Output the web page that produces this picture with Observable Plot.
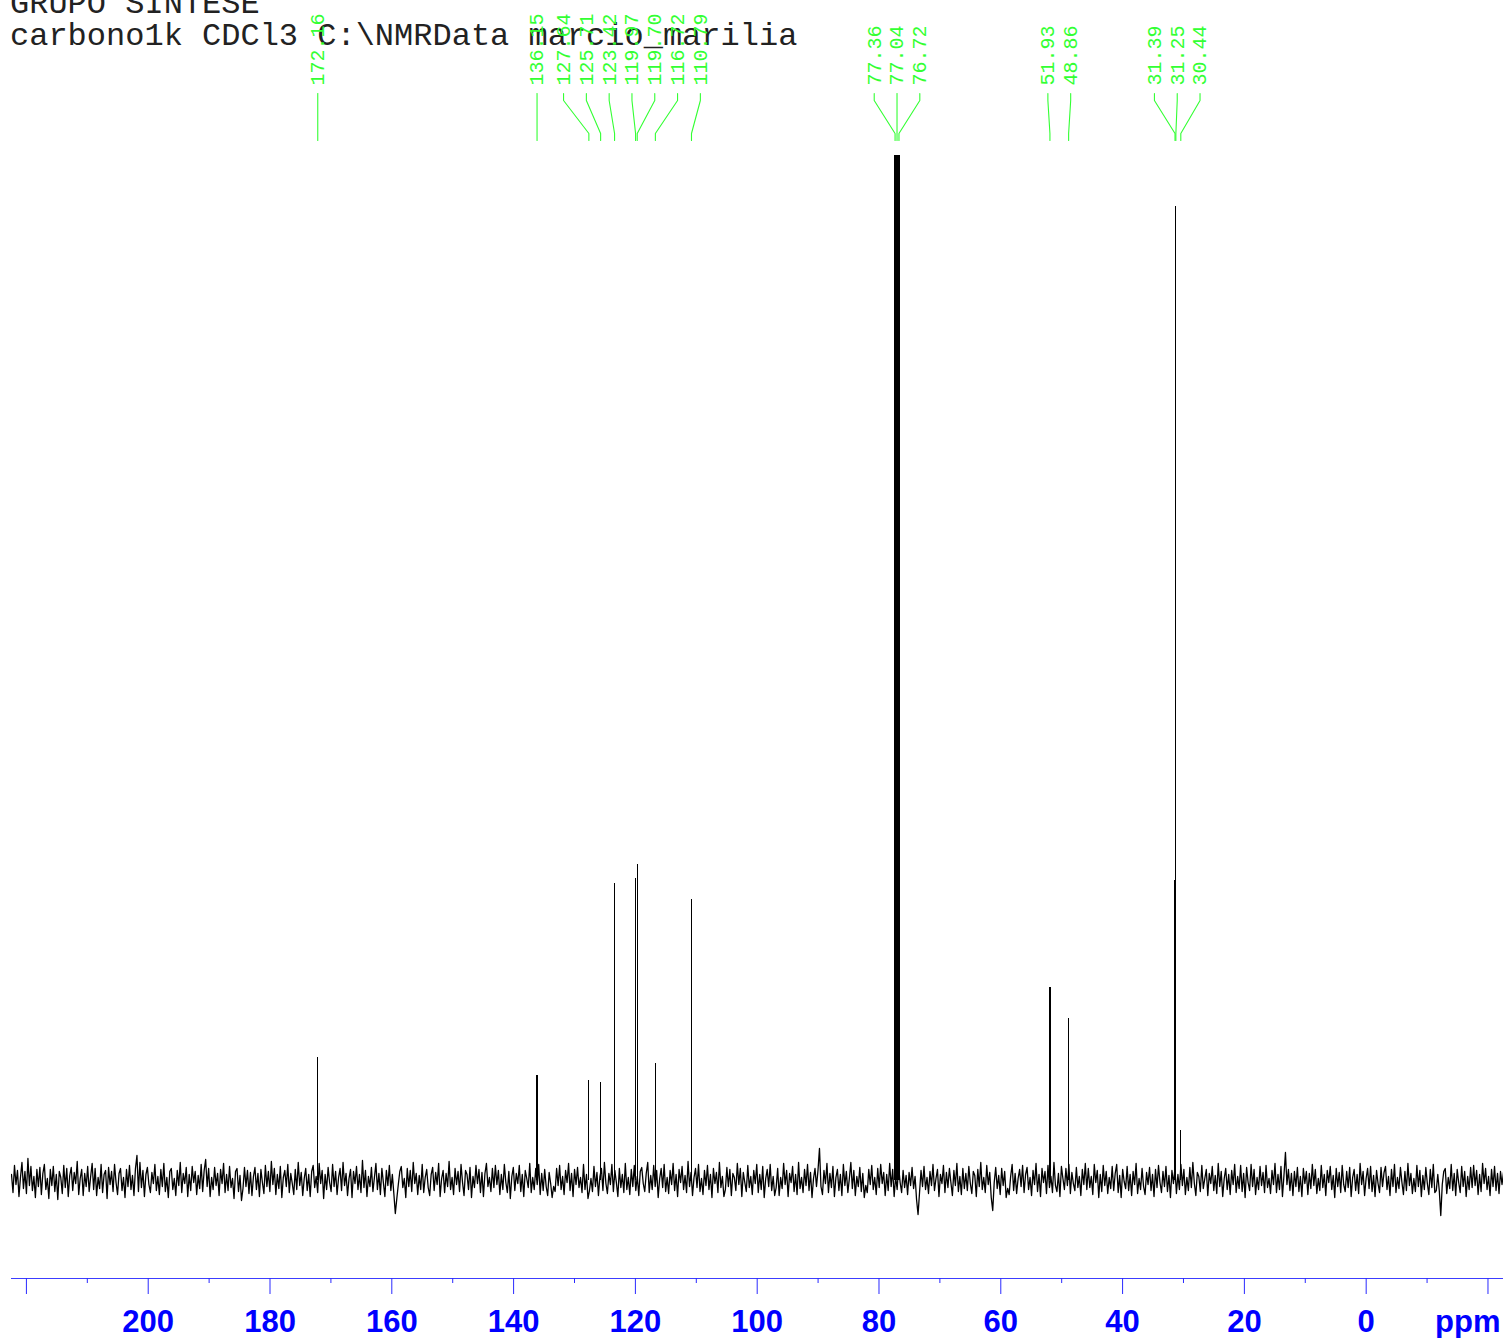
<!DOCTYPE html>
<html>
<head>
<meta charset="utf-8">
<script src="https://cdn.jsdelivr.net/npm/d3@7"></script>
<script src="https://cdn.jsdelivr.net/npm/@observablehq/plot@0.6"></script>
<style>
  html, body { margin: 0; padding: 0; background: #fff; }
  #wrap { position: relative; width: 1503px; height: 1338px; overflow: hidden; background: #fff; }
  #title { position: absolute; left: 10px; top: -11.5px; font-family: "Liberation Mono", "DejaVu Sans Mono", monospace; font-size: 32px; line-height: 32px; white-space: pre; color: #222; z-index: 0; }
  #labels { position: absolute; left: 0; top: 0; z-index: 1; }
  #main { position: absolute; left: 0; top: 155px; z-index: 1; }
</style>
</head>
<body>
<div id="wrap">
<div id="title">GRUPO SINTESE
carbono1k CDCl3 C:\NMRData marcio_marilia</div>
<div id="labels"></div>
<div id="main"></div>
</div>
<script>
// ---- data ----
const ppmStart = 222.45;   // left edge of spectrum (ppm)
const ppmEnd = -22.55;     // right edge of spectrum (ppm)

const peakPpm = [172.16, 136.15, 127.64, 125.71, 123.42, 119.97, 119.70, 116.72, 110.79,
                 77.36, 77.04, 76.72, 51.93, 48.86, 31.39, 31.25, 30.44];
const peakHeight = [123, 105, 100, 98, 297, 302, 316, 117, 281,
                    1400, 1600, 1350, 193, 162, 300, 974, 50];

const majorTicks = [220, 200, 180, 160, 140, 120, 100, 80, 60, 40, 20, 0, -20];
const minorTicks = [210, 190, 170, 150, 130, 110, 90, 70, 50, 30, 10, -10];
const tickLabels = ["", "200", "180", "160", "140", "120", "100", "80", "60", "40", "20", "0", ""];
const unitLabel = "ppm";

// baseline noise, read approximately (evenly sampled from ppmStart to ppmEnd)
const noise = [
6,-12,15,-4,10,-16,3,18,-8,9,-13,22,-5,14,-10,4,-17,11,-6,13,
-14,7,16,-9,2,-18,11,-5,14,-11,6,-19,9,3,-13,15,-7,12,-16,5,
13,-10,8,-3,19,-14,2,11,-15,7,-6,14,-11,4,17,-9,12,-15,3,-8,
16,-12,6,10,-18,13,-4,9,-11,16,-2,-14,7,12,-10,3,-17,11,-6,15,
-9,5,-15,12,25,-11,18,-7,10,-16,6,13,-4,-12,8,-3,16,-10,4,-14,
11,-6,17,-11,3,-17,9,12,-9,2,-15,10,-5,18,-12,7,-3,13,-16,6,
-10,14,-2,9,-14,5,-8,16,-11,10,21,-6,12,-16,3,-9,13,-5,7,-15,
11,-3,17,-12,6,-10,14,-7,2,-18,9,12,-11,5,-20,-8,13,-6,10,-13,
8,-15,4,13,-9,7,-16,11,-2,-13,15,-6,9,-11,19,-4,12,-14,6,-8,
14,-17,3,10,-6,16,-12,7,-3,-14,11,-9,18,-5,8,-15,2,12,-10,6,
-16,9,15,-7,4,-12,17,-3,10,-18,6,-9,13,-2,-11,16,-6,9,-14,3,
12,-10,18,-5,7,-15,2,11,-17,9,-3,14,-9,6,-12,20,-7,10,-16,4,
-6,13,-11,3,17,-9,7,-14,12,-2,-16,10,-5,15,-10,6,-13,-33,-18,-4,
9,14,-7,2,-17,12,-6,10,-11,18,-3,7,-14,5,-9,16,-12,3,11,-7,
-15,6,13,-10,8,-4,17,-16,2,10,-12,7,-6,19,-9,3,-14,12,-4,9,
-11,16,-2,-15,10,6,-9,13,-17,4,-7,15,-3,11,-12,8,-16,7,17,-6,
3,-11,12,-7,15,-4,10,-14,6,-9,16,-2,-12,9,-18,4,13,-10,7,-3,
15,-11,6,-16,10,2,-7,17,-12,3,-9,12,-4,16,-14,7,-10,11,-6,-15,
8,-3,-17,-6,-11,12,-5,15,-9,4,-14,10,-2,17,-10,7,-16,11,-4,13,
-7,3,-12,16,-9,6,-18,-10,2,-11,14,-6,8,-15,4,12,-10,18,-3,-13,
7,-4,16,-11,10,-2,-16,12,-7,6,-12,17,-9,3,-14,11,-6,15,-10,4,
-15,9,13,-3,-11,7,18,-12,5,-9,15,-6,10,-17,2,12,-7,16,-11,3,
-13,10,-4,17,-10,6,-16,11,-2,14,-9,5,-12,19,-6,8,-15,3,12,-7,
16,-11,2,-14,10,-5,15,-9,6,-17,12,-3,8,-12,18,-7,4,-16,-9,13,
-6,11,-15,7,3,-10,17,-4,12,-16,8,-2,-11,15,-7,4,-14,10,-3,16,
-12,6,-9,14,-17,2,11,-6,16,-10,4,-15,-7,12,-15,3,-8,17,-4,10,
-16,7,-2,14,-11,6,-14,18,-8,3,-12,11,-5,16,-10,8,-17,2,12,-6,
10,32,-6,-14,10,-3,17,-12,7,-7,14,-16,3,11,-10,6,-15,16,-5,9,
-12,2,18,-8,10,-15,4,-6,13,-11,7,-17,-5,-12,11,-4,15,-9,3,-14,
12,-7,16,-3,8,-15,6,-10,17,-6,11,-16,4,-9,14,-2,-12,10,-7,5,
-14,8,-5,13,-8,4,-19,-34,-12,10,-6,14,-9,3,-13,9,-5,16,-10,2,
11,-16,6,-3,15,-12,8,-7,12,-2,-15,10,-5,17,-11,4,-14,12,-8,7,
-10,14,-3,-13,9,5,-16,11,-6,18,-9,3,-12,15,-4,8,-17,-30,-2,13,
-8,5,-14,12,-5,9,-17,-8,-14,4,16,-10,7,-13,2,11,-6,15,-12,6,
13,-9,3,-15,10,-4,17,-11,6,-16,12,-2,9,-13,15,-7,4,-12,18,-5,
-11,7,-16,14,2,-9,12,-5,16,-13,8,-3,-10,13,-7,4,-15,11,-4,17,
-9,12,-7,4,-14,16,-2,10,-17,6,-11,15,-5,9,-13,3,-8,14,-10,7,
16,-12,5,-17,11,-1,-8,14,-10,6,-15,9,-4,17,-13,2,-9,12,-6,-14,
8,-4,13,-10,6,-16,11,-7,15,-2,-12,9,-6,14,-11,5,-17,10,-3,12,
-13,6,-9,16,-5,11,-14,3,-10,13,-7,18,-3,-15,8,4,-11,15,-8,2,
11,-15,7,-3,14,-10,5,-13,17,-6,9,-16,2,12,-9,6,-14,10,-4,16,
-12,4,-8,15,-11,7,-17,13,-2,-10,16,-6,11,-14,3,-9,14,-5,8,-12,
15,-7,2,-13,10,-4,17,-12,6,-9,14,-16,5,28,-4,11,-10,7,-15,9,
-6,13,-11,4,-16,12,-3,9,-14,7,-8,16,-5,11,-13,2,-10,15,-7,6,
-15,10,-2,14,-9,5,-17,12,-6,8,-12,15,-4,-11,9,-7,13,-16,3,11,
-10,6,-13,17,-4,9,-15,2,12,-8,14,-11,5,-16,10,-3,-12,13,-6,8,
14,-9,4,-15,11,-6,16,-12,3,-8,13,-2,-14,9,-10,17,-5,7,-13,2,
-11,15,-6,10,-16,5,-9,13,-3,-14,11,-7,16,-12,-10,6,-10,-35,-4,9,
12,-13,3,-8,16,-10,7,-15,11,-2,-12,14,-6,9,-16,4,-9,13,-7,15,
-5,10,-14,6,-11,17,-3,12,-9,4,-15,11,-6,14,-10,7,-13,9,-4,8
];

// ---- styles / layout ----
const W = 1503;
const ML = 11, MR = 0;
const GREEN = "#33ff33";
const BLUE = "#0000ff";
const labelGapPx = 22.8;
const layout = {labelEnd: 85, stubTop: 93, stubBottom: 100, bend: 133, tip: 140};

// ---- derived tables ----
const pxPerPpm = (W - ML - MR) / (ppmStart - ppmEnd);
const gap = labelGapPx / pxPerPpm;
const step = (ppmStart - ppmEnd) / (noise.length - 1);
const spectrum = noise.map((v, i) => ({ppm: ppmStart - i * step, v}));
const peaks = peakPpm.map((p, i) => ({ppm: p, h: peakHeight[i]})).sort((a, b) => b.ppm - a.ppm);

// spread labels: cluster overlapping labels, centre each cluster on the mean of its peaks
(function spread() {
  let clusters = peaks.map(p => ({items: [p]}));
  const center = c => d3.mean(c.items, d => d.ppm);
  let merged = true;
  while (merged) {
    merged = false;
    for (let i = 0; i < clusters.length - 1; i++) {
      const a = clusters[i], b = clusters[i + 1];
      const aLast = center(a) - (a.items.length - 1) / 2 * gap;
      const bFirst = center(b) + (b.items.length - 1) / 2 * gap;
      if (aLast - bFirst < gap) {
        a.items.push(...b.items);
        clusters.splice(i + 1, 1);
        merged = true;
        break;
      }
    }
  }
  clusters.forEach(c => {
    const m = center(c), n = c.items.length;
    c.items.forEach((d, k) => { d.labelX = m + ((n - 1) / 2 - k) * gap; });
  });
})();

const connectors = peaks.flatMap((d, i) => [
  {id: i, x: d.labelX, y: layout.stubTop},
  {id: i, x: d.labelX, y: layout.stubBottom},
  {id: i, x: d.ppm, y: layout.bend},
  {id: i, x: d.ppm, y: layout.tip}
]);

// ---- label strip ----
const labelPlot = Plot.plot({
  width: W, height: 155,
  marginLeft: ML, marginRight: MR, marginTop: 0, marginBottom: 0,
  style: "background: transparent; overflow: visible;",
  x: {domain: [ppmStart, ppmEnd], axis: null},
  y: {domain: [155, 0], axis: null},
  marks: [
    Plot.line(connectors, {x: "x", y: "y", z: "id", stroke: GREEN, strokeWidth: 1.1}),
    Plot.text(peaks, {
      x: "labelX", y: layout.labelEnd, text: d => d.ppm.toFixed(2),
      rotate: -90, textAnchor: "start", lineAnchor: "middle",
      fontFamily: "Liberation Mono, DejaVu Sans Mono, monospace", fontSize: 20, fill: GREEN
    })
  ]
});
document.getElementById("labels").appendChild(labelPlot);

// ---- main spectrum ----
const yLow = -98, yHigh = 1025;
const mainPlot = Plot.plot({
  width: W, height: 1183,
  marginLeft: ML, marginRight: MR, marginTop: 0, marginBottom: 60,
  style: "background: transparent; overflow: visible;",
  x: {domain: [ppmStart, ppmEnd]},
  y: {domain: [yLow, yHigh], axis: null},
  marks: [
    Plot.line(spectrum, {x: "ppm", y: "v", stroke: "#000", strokeWidth: 1.3, clip: true}),
    Plot.ruleX(peaks, {x: "ppm", y1: 0, y2: "h", stroke: "#000", strokeWidth: 1.2, shapeRendering: "crispEdges", clip: true}),
    Plot.ruleY([yLow], {stroke: "#3c3cff", strokeWidth: 1}),
    Plot.axisX({ticks: minorTicks, tickSize: 5, tickFormat: () => "", stroke: "#2a2aff", label: null}),
    Plot.axisX({
      ticks: majorTicks, tickSize: 16, tickPadding: 15,
      tickFormat: d => tickLabels[majorTicks.indexOf(d)],
      stroke: "#2a2aff", fill: BLUE, fontSize: 31, fontWeight: "bold",
      fontFamily: "Liberation Sans, Arial, Helvetica, sans-serif", label: null
    }),
    Plot.text([unitLabel], {
      frameAnchor: "bottom-right", textAnchor: "end", lineAnchor: "top", dy: 31, dx: -3,
      fill: BLUE, fontSize: 31, fontWeight: "bold",
      fontFamily: "Liberation Sans, Arial, Helvetica, sans-serif"
    })
  ]
});
document.getElementById("main").appendChild(mainPlot);
</script>
</body>
</html>
